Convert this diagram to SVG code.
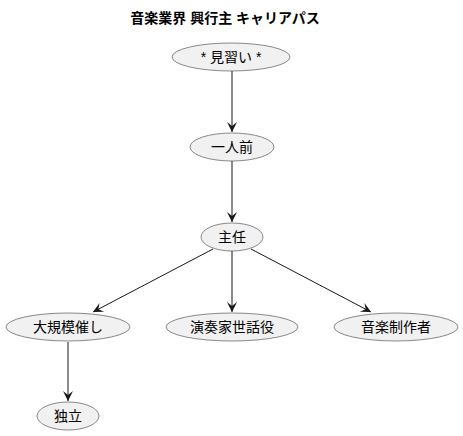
<svg xmlns="http://www.w3.org/2000/svg" width="463" height="436" viewBox="0 0 463 436">
<defs>
<style>
.n ellipse{fill:#F1F1F1;stroke:#181818;stroke-width:0.5}
.n text{font-family:"Liberation Sans","Noto Sans CJK JP",sans-serif;font-size:14px;fill:#000;text-anchor:middle}
.e line{stroke:#181818;stroke-width:1}
.t{font-family:"Liberation Sans","Noto Sans CJK JP",sans-serif;font-size:14px;font-weight:bold;text-anchor:middle}
</style>
<marker id="ah" viewBox="-11 -6 12 12" refX="0" refY="0" markerWidth="12" markerHeight="12" markerUnits="userSpaceOnUse" orient="auto">
<path d="M0,0 L-10,-5 L-6,0 L-10,5 Z" fill="#181818"/>
</marker>
</defs>
<rect width="463" height="436" fill="#FFFFFF"/>
<text class="t" x="225" y="23">音楽業界 興行主 キャリアパス</text>
<g id="connectors" class="e">
<line x1="232" y1="71" x2="232" y2="132" marker-end="url(#ah)"/>
<line x1="232" y1="161" x2="232" y2="222" marker-end="url(#ah)"/>
<line x1="213" y1="249" x2="93" y2="312" marker-end="url(#ah)"/>
<line x1="232" y1="251" x2="232" y2="312" marker-end="url(#ah)"/>
<line x1="251" y1="249" x2="371" y2="312" marker-end="url(#ah)"/>
<line x1="68" y1="342" x2="68" y2="401" marker-end="url(#ah)"/>
</g>
<g id="n1" class="n"><ellipse cx="231" cy="57" rx="59" ry="14"/><text x="231" y="62">* 見習い *</text></g>
<g id="n2" class="n"><ellipse cx="232" cy="147" rx="42" ry="14"/><text x="232" y="152">一人前</text></g>
<g id="n3" class="n"><ellipse cx="232" cy="237" rx="31" ry="14"/><text x="232" y="242">主任</text></g>
<g id="n4" class="n"><ellipse cx="68" cy="327" rx="62" ry="14"/><text x="68" y="332">大規模催し</text></g>
<g id="n5" class="n"><ellipse cx="232" cy="327" rx="66" ry="14"/><text x="232" y="332">演奏家世話役</text></g>
<g id="n6" class="n"><ellipse cx="396" cy="327" rx="62" ry="14"/><text x="396" y="332">音楽制作者</text></g>
<g id="n7" class="n"><ellipse cx="68" cy="416" rx="31" ry="14"/><text x="68" y="421">独立</text></g>
</svg>
